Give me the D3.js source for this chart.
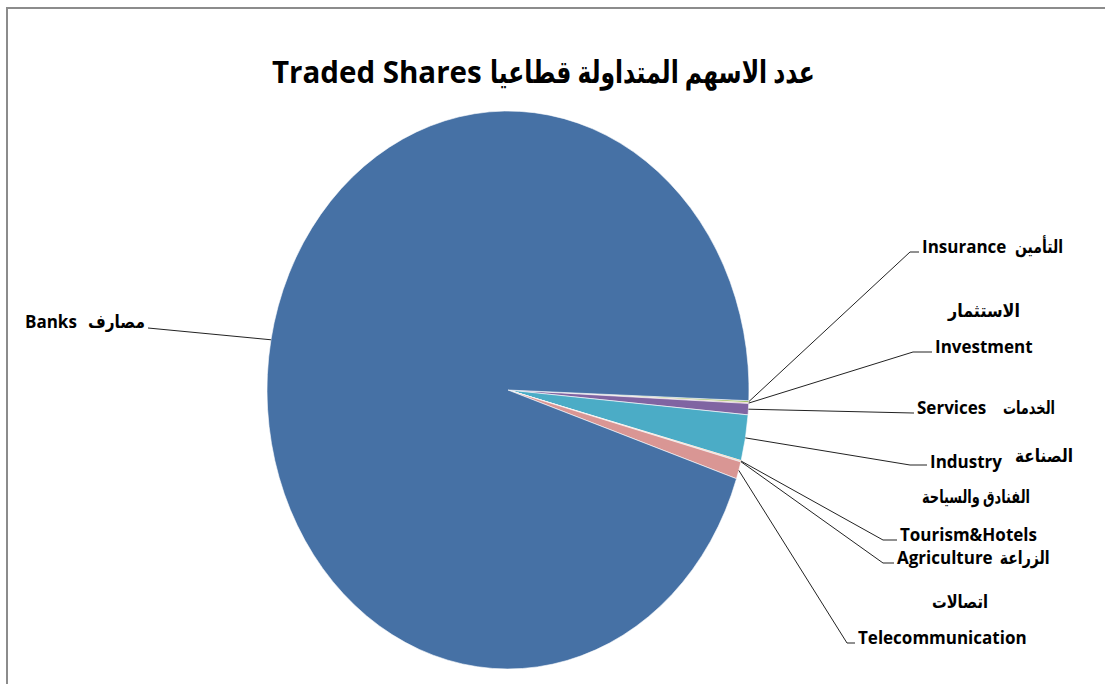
<!DOCTYPE html>
<html>
<head>
<meta charset="utf-8">
<script src="https://cdn.jsdelivr.net/npm/d3@7"></script>
<style>
  html, body { margin: 0; padding: 0; background: #fff; }
  svg text { font-family: "Open Sans", "DejaVu Sans", sans-serif; font-weight: bold; fill: #000; }
</style>
</head>
<body>
<div id="chart"></div>
<script>
// sectors in clockwise order, starting just below 3 o'clock
var sectors = ["Insurance", "Investment", "Services", "Industry", "Tourism&Hotels", "Agriculture", "Telecommunication", "Banks"];
var shares = [0.11, 0.05, 0.65, 2.65, 0.05, 0.03, 1.0, 95.46];   // % of traded shares
var arabic = ["التأمين", "الاستثمار", "الخدمات", "الصناعة", "الفنادق والسياحة", "الزراعة", "اتصالات", "مصارف"];
var colors = ["#9BBB59", "#C0504D", "#8064A2", "#4BACC6", "#F79646", "#2C4D75", "#D99694", "#4671A5"];

var W = 1105, H = 684;
var cx = 508, cy = 390, rx = 241, ry = 279;

var svg = d3.select("#chart").append("svg")
  .attr("width", W)
  .attr("height", H);

// chart frame (only top and left edges show)
svg.append("path")
  .attr("d", "M7,684 L7,8 L1105,8")
  .attr("fill", "none")
  .attr("stroke", "#8c8c8c")
  .attr("stroke-width", 2);

// arabic runs are squeezed into the width they take in the original
function arabicText(parent, str, x0, width, y, size) {
  var t = parent.append("text")
    .attr("x", 0)
    .attr("y", 0)
    .style("font-size", size + "px")
    .text(str);
  var w = t.node().getComputedTextLength();
  t.attr("transform", "translate(" + x0 + "," + y + ") scale(" + (width / w) + ",1)");
  return t;
}

svg.append("text")
  .attr("x", 272)
  .attr("y", 83)
  .style("font-size", "29.5px")
  .text("Traded Shares");
arabicText(svg, "عدد الاسهم المتداولة قطاعيا", 490, 325, 83, 31);

var start = (90 + 2.2) * Math.PI / 180;
var pie = d3.pie().sort(null).startAngle(start).endAngle(start + 2 * Math.PI);
var arcs = pie(shares);

var arc = d3.arc().innerRadius(0).outerRadius(ry);

var g = svg.append("g")
  .attr("transform", "translate(" + cx + "," + cy + ") scale(" + (rx / ry) + ",1)");

g.selectAll("path")
  .data(arcs)
  .enter().append("path")
  .attr("d", arc)
  .attr("fill", function(d, i) { return colors[i]; })
  .attr("stroke", "#fff")
  .attr("stroke-width", 0.6)
  .attr("vector-effect", "non-scaling-stroke");

// label placement: line end x/y, english x/y, arabic x/width/y
var labelPos = [
  [910, 252, 922, 253, 1015, 48, 253],
  [913, 352, 935, 353, 948, 72, 317],
  [913, 413, 917, 414, 1003, 52, 414],
  [910, 465, 930, 468, 1015, 58, 462],
  [883, 540, 900, 541, 922, 108, 503],
  [883, 563, 897, 564, 992, 50, 564],
  [847, 643, 858, 644, 932, 56, 608],
  [148, 328, 25, 328, 88, 57, 328]
];

function edgePoint(d) {
  var a = (d.startAngle + d.endAngle) / 2;
  return [cx + rx * Math.sin(a), cy - ry * Math.cos(a)];
}

var labels = svg.append("g");

arcs.forEach(function(d, i) {
  var p = edgePoint(d), L = labelPos[i];
  var pts;
  if (i === 7) {
    pts = [p, [L[0], L[1]]];
  } else {
    pts = [p, [L[0], L[1]], [L[2] - 3, L[1]]];
  }
  labels.append("path")
    .attr("d", d3.line()(pts))
    .attr("fill", "none")
    .attr("stroke", "#222")
    .attr("stroke-width", 1);

  var en = labels.append("text")
    .attr("x", L[2])
    .attr("y", L[3])
    .style("font-size", "17px")
    .text(sectors[i]);
  var ax = L[4];
  if (L[6] === L[3] || Math.abs(L[6] - L[3]) < 10) {
    // same line: keep the arabic clear of the english word
    ax = Math.max(ax, L[2] + en.node().getComputedTextLength() + 7);
  }
  arabicText(labels, arabic[i], ax, L[5], L[6], 18);
});
</script>
</body>
</html>
